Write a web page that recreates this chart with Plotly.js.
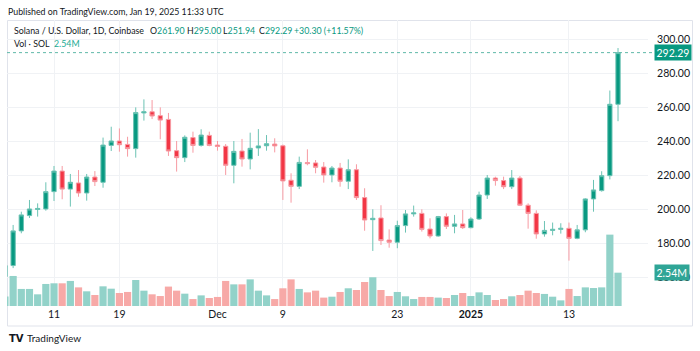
<!DOCTYPE html>
<html>
<head>
<meta charset="utf-8">
<script src="https://cdn.plot.ly/plotly-3.0.1.min.js"></script>
<style>
html,body{margin:0;padding:0;background:#fff;}
#chart{width:700px;height:351px;}
</style>
</head>
<body>
<div id="chart"></div>
<script>
const dates = [
"2024-11-05","2024-11-06","2024-11-07","2024-11-08","2024-11-09","2024-11-10","2024-11-11","2024-11-12","2024-11-13","2024-11-14",
"2024-11-15","2024-11-16","2024-11-17","2024-11-18","2024-11-19","2024-11-20","2024-11-21","2024-11-22","2024-11-23","2024-11-24",
"2024-11-25","2024-11-26","2024-11-27","2024-11-28","2024-11-29","2024-11-30",
"2024-12-01","2024-12-02","2024-12-03","2024-12-04","2024-12-05","2024-12-06","2024-12-07","2024-12-08","2024-12-09","2024-12-10",
"2024-12-11","2024-12-12","2024-12-13","2024-12-14","2024-12-15","2024-12-16","2024-12-17","2024-12-18","2024-12-19","2024-12-20",
"2024-12-21","2024-12-22","2024-12-23","2024-12-24","2024-12-25","2024-12-26","2024-12-27","2024-12-28","2024-12-29","2024-12-30","2024-12-31",
"2025-01-01","2025-01-02","2025-01-03","2025-01-04","2025-01-05","2025-01-06","2025-01-07","2025-01-08","2025-01-09","2025-01-10",
"2025-01-11","2025-01-12","2025-01-13","2025-01-14","2025-01-15","2025-01-16","2025-01-17","2025-01-18","2025-01-19"
];
const open = [
160.5,167.0,187.4,196.4,200.0,200.3,210.5,222.6,212.0,215.6,
209.7,219.1,216.0,237.7,240.3,238.3,235.8,256.8,257.5,255.2,
253.0,234.6,230.5,242.3,237.7,243.6,
237.9,237.2,226.0,234.4,229.7,236.2,237.5,238.5,237.5,217.2,
213.6,227.6,227.4,225.0,220.3,224.4,216.6,223.4,207.0,194.0,
195.0,182.0,180.7,190.5,197.4,197.7,188.5,184.4,195.8,190.1,191.5,
189.3,194.4,208.5,218.5,217.0,213.4,218.5,202.5,197.7,185.6,
187.7,188.3,188.9,183.0,188.0,206.2,211.1,219.9,261.90
];
const high = [
169.0,190.9,198.7,205.6,203.6,216.0,225.6,225.6,220.9,223.2,
220.9,222.6,242.3,248.7,247.7,242.8,260.1,264.8,264.4,260.1,
256.8,240.3,243.6,245.8,247.2,245.8,
240.3,238.5,240.3,241.5,245.2,247.3,243.8,241.9,238.2,221.3,
231.1,235.4,229.1,227.9,225.6,227.4,229.5,226.6,212.5,200.1,
202.5,188.3,193.4,199.7,202.3,200.1,194.8,196.2,197.7,196.8,199.7,
195.4,210.5,220.3,219.3,219.3,223.2,219.7,203.6,199.5,193.2,
192.3,191.9,192.3,190.9,206.6,217.4,222.5,270.0,295.00
];
const low = [
157.5,165.5,186.0,195.0,195.8,199.3,205.0,206.0,201.7,207.5,
205.2,213.8,212.8,234.4,234.0,231.1,230.5,252.3,253.2,241.3,
231.5,222.3,227.9,233.4,237.0,237.2,
234.6,220.3,215.4,225.2,223.6,231.5,234.6,233.6,205.6,204.0,
212.0,226.0,221.3,215.8,216.0,213.4,212.0,205.6,187.5,175.6,
179.1,177.5,177.2,186.4,195.8,187.0,183.0,184.0,188.5,186.0,188.5,
188.9,193.8,206.2,214.0,212.0,212.0,202.0,188.7,182.8,184.0,
184.8,185.8,169.9,182.5,186.6,198.7,210.5,217.7,251.94
];
const close = [
167.0,187.4,196.8,200.3,200.6,210.5,222.6,212.0,216.0,209.7,
219.1,216.4,237.9,240.3,238.1,235.8,257.0,257.5,255.0,252.6,
234.4,230.5,242.5,237.7,243.8,237.7,
237.1,226.0,234.2,229.7,236.0,237.4,238.7,237.4,216.8,213.6,
227.7,227.0,224.8,220.3,224.4,216.6,223.4,207.0,193.8,194.8,
181.7,180.7,190.5,197.4,198.0,188.3,184.4,195.8,190.1,191.5,189.3,
194.4,208.5,218.5,217.0,213.4,218.5,202.5,197.7,185.6,187.7,
188.3,188.9,183.0,188.0,206.2,211.5,219.9,261.9,292.29
];
const volumeM = [
0.73,2.29,1.30,1.30,0.89,1.68,1.73,1.73,1.91,1.42,
1.12,0.84,1.50,1.32,0.99,1.07,1.98,1.17,0.89,0.76,
1.48,1.17,0.94,0.53,0.81,0.61,
0.69,1.91,1.65,1.65,2.03,1.17,0.81,0.53,1.35,2.03,
1.30,1.04,1.17,0.64,0.71,1.07,1.35,1.22,1.83,2.19,
1.22,0.76,1.07,0.74,0.53,0.69,0.69,0.64,0.61,0.84,0.99,
0.76,1.04,0.84,0.46,0.53,0.74,0.84,1.17,0.99,0.92,
0.71,0.43,1.30,0.76,1.42,1.37,1.42,5.44,2.54
];
const tickDates = ["2024-11-11","2024-11-19","2024-12-01","2024-12-09","2024-12-23","2025-01-01","2025-01-13"];
const tickLabels = ["11","19","Dec","9","23","<b>2025</b>","13"];
const priceTicks = [160,180,200,220,240,260,280,300];
const headerText = "Published on TradingView.com, Jan 19, 2025 11:33 UTC";
const symbolText = "Solana / U.S. Dollar, 1D, Coinbase";
const changeText = "+30.30 (+11.57%)";
const volText = "Vol · SOL";

const UP = "#089981", DOWN = "#F23645";
const UP_W = "#6cc3b4", DOWN_W = "#f79aa2";
const VOL_UP = "#92d2c9", VOL_DOWN = "#f7a9a7";
const FONT = "Lato, sans-serif";
const TXT = "#131722";

const W = 700, H = 351;
const L = 7, R = 648, T = 20, B = 306;
const pw = R - L, ph = B - T;
const px = v => (v - L) / pw;
const py = v => 1 - (v - T) / ph;

const volColors = close.map((c, i) => c >= open[i] ? VOL_UP : VOL_DOWN);
const last = close.length - 1;

const traces = [
  {
    type: "bar", x: dates, y: volumeM, yaxis: "y2",
    marker: {color: volColors, line: {width: 0}},
    hoverinfo: "skip"
  },
  {
    type: "candlestick", x: dates, open: open, high: high, low: low, close: close,
    increasing: {line: {color: UP_W, width: 1}, fillcolor: UP},
    decreasing: {line: {color: DOWN_W, width: 1}, fillcolor: DOWN},
    whiskerwidth: 0, hoverinfo: "skip"
  }
];

function label(xp, yp, text, size, color) {
  return {xref: "paper", yref: "paper", x: px(xp), y: py(yp), xanchor: "left", yanchor: "middle",
          showarrow: false, text: text, borderpad: 0, font: {family: FONT, size: size, color: color || TXT}};
}
const LEG = 8.8;
const g = s => "<span style='color:" + UP + "'>" + s + "</span>";

const layout = {
  width: W, height: H,
  margin: {l: L, r: W - R, t: T, b: H - B, pad: 0},
  paper_bgcolor: "#ffffff", plot_bgcolor: "#ffffff",
  showlegend: false,
  bargap: 0.12,
  boxgap: 0.25,
  font: {family: FONT, color: TXT, size: 10},
  xaxis: {
    type: "date",
    range: ["2024-11-05 06:00", "2025-01-22 16:00"],
    rangeslider: {visible: false},
    tickmode: "array", tickvals: tickDates, ticktext: tickLabels,
    showgrid: true, gridcolor: "#f0f2f5", gridwidth: 1,
    zeroline: false, showline: false,
    ticks: "", 
    tickfont: {family: FONT, size: 10.5, color: TXT},
    fixedrange: true
  },
  yaxis: {
    side: "right",
    range: [143.2, 311.5],
    tickmode: "array", tickvals: priceTicks,
    tickformat: ".2f",
    showgrid: true, gridcolor: "#f0f2f5", gridwidth: 1,
    zeroline: false, showline: false,
    ticks: "outside", ticklen: 6, tickcolor: "rgba(0,0,0,0)",
    tickfont: {family: FONT, size: 10.5, color: TXT},
    fixedrange: true
  },
  yaxis2: {
    overlaying: "y", side: "left",
    range: [0, 21.8],
    visible: false, showgrid: false, zeroline: false, fixedrange: true
  },
  shapes: [
    {type: "rect", xref: "paper", yref: "paper",
     x0: px(7.5), x1: px(692.5), y0: py(326), y1: py(20.5),
     line: {color: "#e0e3eb", width: 1}, fillcolor: "rgba(0,0,0,0)", layer: "below"},
    {type: "line", xref: "paper", yref: "y",
     x0: 0, x1: px(655), y0: close[last], y1: close[last],
     line: {color: "#5fb8a8", width: 1, dash: "dot"}}
  ],
  annotations: [
    label(7, 11, headerText, 8.8),
    label(13, 30, symbolText, LEG),
    label(149, 30, "O" + g(open[last].toFixed(2)), LEG),
    label(186, 30, "H" + g(high[last].toFixed(2)), LEG),
    label(222, 30, "L" + g(low[last].toFixed(2)), LEG),
    label(258, 30, "C" + g(close[last].toFixed(2)), LEG),
    label(293, 30, g(changeText), LEG),
    label(13, 43, volText, LEG),
    label(53, 43, "<span style='color:#22ab94'>" + volumeM[last].toFixed(2) + "M</span>", LEG),
    {xref: "paper", yref: "y", x: px(654), y: close[last], xanchor: "left", yanchor: "middle",
     showarrow: false, text: close[last].toFixed(2), bgcolor: UP, borderpad: 1.5,
     font: {family: FONT, size: 10.5, color: "#ffffff"}},
    {xref: "paper", yref: "y2", x: px(654), y: volumeM[last], xanchor: "left", yanchor: "middle",
     showarrow: false, text: volumeM[last].toFixed(2) + "M", bgcolor: "#2fa596", borderpad: 1.5,
     font: {family: FONT, size: 10.5, color: "#ffffff"}},
    {xref: "paper", yref: "paper", x: px(7), y: py(338), xanchor: "left", yanchor: "middle",
     showarrow: false, text: "<b>TV</b>",
     font: {family: "DejaVu Sans, sans-serif", size: 10, color: "#131722"}},
    label(26, 338, "TradingView", 10)
  ]
};

Plotly.newPlot("chart", traces, layout, {staticPlot: true, displayModeBar: false});
</script>
</body>
</html>
